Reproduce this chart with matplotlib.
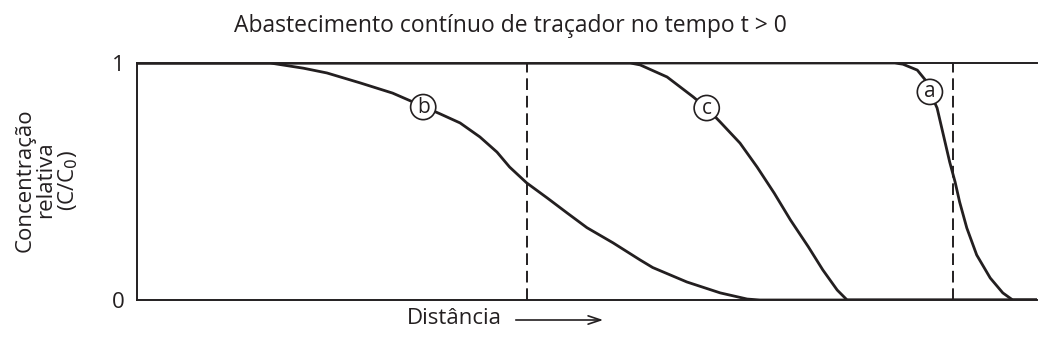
import matplotlib.pyplot as plt

plt.rcParams['font.family'] = ['Open Sans', 'DejaVu Sans']

# distance in arbitrary units (0-100), relative concentration C/C0
dist_b = [0, 14.8, 18.5, 21.1, 24.8, 28.4, 30.7, 33.7, 35.9, 38.1, 40.0, 41.4,
          43.3, 45.6, 47.8, 50.0, 52.9, 55.9, 57.3, 61.1, 64.8, 67.8, 69.2, 100]
conc_b = [1.0, 1.0, 0.978, 0.958, 0.916, 0.873, 0.835, 0.785, 0.747, 0.688,
          0.624, 0.561, 0.494, 0.430, 0.367, 0.305, 0.241, 0.169, 0.137, 0.076,
          0.030, 0.004, 0.0, 0.0]

dist_c = [0, 54.8, 55.9, 58.9, 61.8, 63.4, 64.8, 67.0, 68.9, 70.8, 72.6, 74.6,
          76.2, 77.8, 78.9, 100]
conc_c = [1.0, 1.0, 0.992, 0.941, 0.857, 0.806, 0.751, 0.662, 0.561, 0.451,
          0.338, 0.224, 0.127, 0.042, 0.0, 0.0]

dist_a = [0, 84.2, 85.1, 86.7, 87.6, 88.1, 88.9, 89.6, 90.3, 90.9, 91.4, 92.2,
          93.3, 94.8, 96.2, 97.3, 100]
conc_a = [1.0, 1.0, 0.995, 0.970, 0.928, 0.878, 0.810, 0.696, 0.582, 0.498,
          0.414, 0.304, 0.190, 0.093, 0.030, 0.0, 0.0]

# curve labels: (letter, distance, concentration)
labels = [("b", 31.8, 0.814), ("c", 63.3, 0.810), ("a", 88.1, 0.878)]
# dashed reference lines (C/C0 = 0.5)
dashed_x = [43.3, 90.7]

ink = '#231f20'

fig = plt.figure(figsize=(10.39, 3.51), dpi=100)
ax = fig.add_axes([137 / 1039, 51 / 351, 900 / 1039, 237 / 351])

for d, c in [(dist_b, conc_b), (dist_c, conc_c), (dist_a, conc_a)]:
    ax.plot(d, c, color=ink, lw=2.0, solid_joinstyle='round')

for x in dashed_x:
    ax.axvline(x, color=ink, lw=1.4, dashes=(6, 3))

for letter, x, y in labels:
    ax.text(x, y, letter, ha='center', va='center', fontsize=15, color=ink,
            bbox=dict(boxstyle='circle,pad=0.1', fc='white', ec=ink, lw=1.2),
            zorder=5)

ax.set_xlim(0, 100)
ax.set_ylim(0, 1)
ax.set_xticks([])
ax.set_yticks([0, 1])
ax.set_yticklabels(['0', '1'], fontsize=16, color=ink)
ax.tick_params(axis='y', length=0, pad=9)
for side in ['left', 'top', 'bottom']:
    ax.spines[side].set_color(ink)
    ax.spines[side].set_linewidth(1.4)
ax.spines['right'].set_visible(False)

fig.text(510 / 1039, 1 - 26 / 351, 'Abastecimento contínuo de traçador no tempo t > 0',
         ha='center', va='center', fontsize=16.5, color=ink)
fig.text(47 / 1039, 1 - 180 / 351, 'Concentração\nrelativa\n(C/C$_0$)',
         ha='center', va='center', rotation=90, fontsize=16, color=ink,
         linespacing=1.0)
fig.text(454 / 1039, 1 - 319 / 351, 'Distância', ha='center', va='center',
         fontsize=16, color=ink)
ax.annotate('', xy=(606 / 1039, 1 - 320 / 351), xytext=(513 / 1039, 1 - 320 / 351),
            xycoords='figure fraction', textcoords='figure fraction',
            arrowprops=dict(arrowstyle='->,head_length=0.9,head_width=0.3',
                            color=ink, lw=1.2))

fig.savefig('out.png', dpi=100, facecolor='white')
